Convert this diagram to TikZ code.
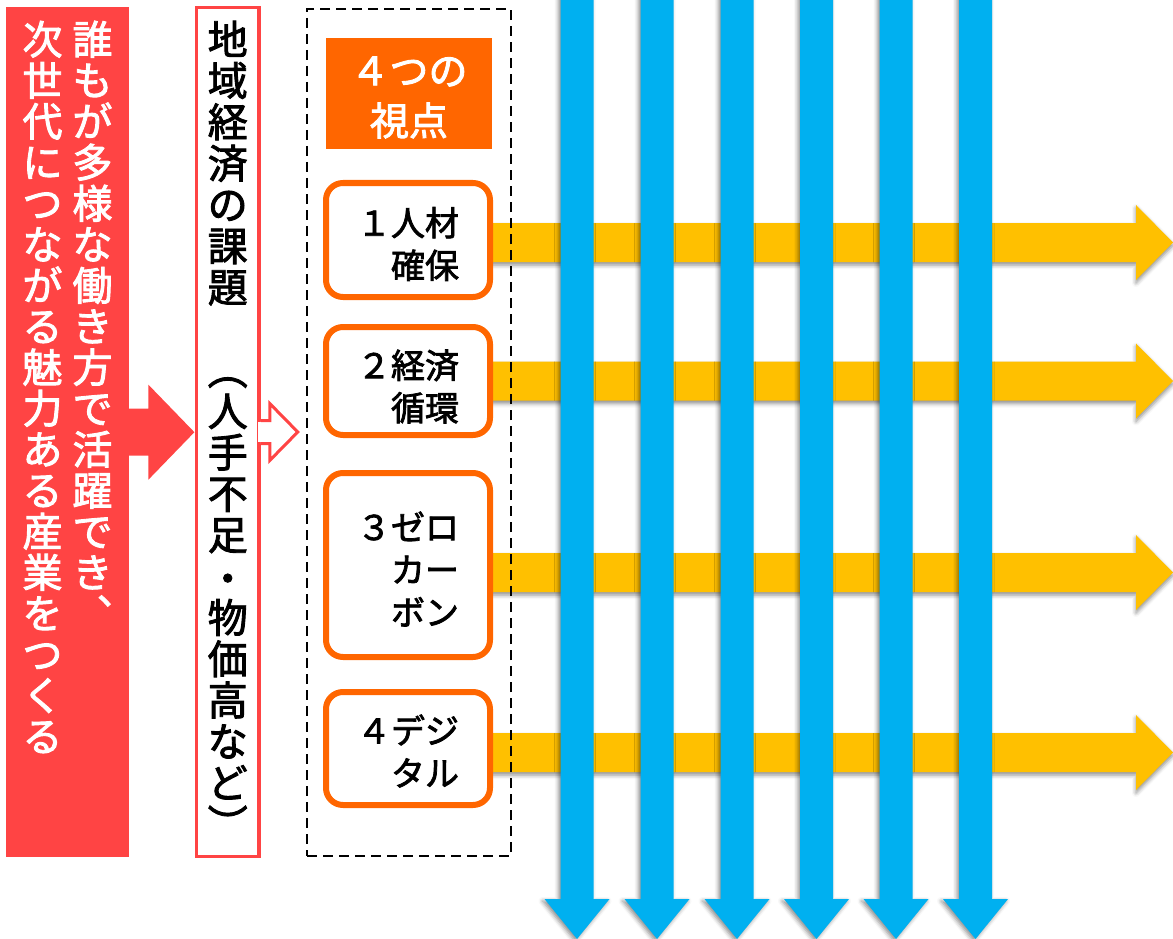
\documentclass[tikz,border=0pt]{standalone}
\usepackage{fontspec}
\setmainfont{Noto Sans CJK JP}[FakeBold=2.2]
\usetikzlibrary{shadows.blur}
\definecolor{cRed}{RGB}{255,68,68}
\definecolor{cBlue}{RGB}{0,176,240}
\definecolor{cYel}{RGB}{255,192,0}
\definecolor{cOra}{RGB}{255,102,0}
\begin{document}
\begin{tikzpicture}[x=1pt,y=-1pt,
  vtext/.style={anchor=north,inner sep=0pt,align=center,font=\fontsize{40pt}{41pt}\selectfont},
  vtextw/.style={anchor=north,inner sep=0pt,align=center,font=\fontsize{40pt}{41.3pt}\selectfont},
  pbox/.style={draw=cOra,line width=6pt,fill=white,rounded corners=17pt,minimum width=164pt,inner sep=0pt},
  lbl/.style={inner sep=0pt,align=right,font=\fontsize{34pt}{42.5pt}\selectfont},
  yarrow/.style={fill=cYel,blur shadow={shadow xshift=0pt,shadow yshift=-3pt,shadow blur radius=4pt,shadow opacity=45}},
  barrow/.style={fill=cBlue,blur shadow={shadow xshift=-2pt,shadow yshift=-2pt,shadow blur radius=4pt,shadow opacity=45}}
]
\useasboundingbox (0,0) rectangle (1173,939);

% yellow horizontal arrows
\coordinate (ya1) at (488,242.5);
\coordinate (ya2) at (488,381);
\coordinate (ya3) at (488,572.5);
\coordinate (ya4) at (488,752.5);
\foreach \k in {1,2,3,4}{
  \path[yarrow] (ya\k) ++(0,-19.5) -- ++(648,0) -- ++(0,-18) -- ++(37,37.5) -- ++(-37,37.5) -- ++(0,-18) -- ++(-648,0) -- cycle;
}

% red box and arrow
\node[fill=cRed,minimum width=123pt,minimum height=850pt,inner sep=0pt,anchor=north west] (rb) at (6,7) {};
\fill[cRed] (rb.east) ++(-1,-23.5) -- ++(20,0) -- ++(0,-24) -- ++(46,47.5) -- ++(-46,47.5) -- ++(0,-24) -- ++(-20,0) -- cycle;
\node[vtext,text=white] (r1) at (92.5,19) {\rule{0pt}{35.2pt}誰\\も\\が\\多\\様\\な\\働\\き\\方\\で\\活\\躍\\で\\き\\︑};
\node[vtext,text=white] (r2) at (42.5,19) {\rule{0pt}{35.2pt}次\\世\\代\\に\\つ\\な\\が\\る\\魅\\力\\あ\\る\\産\\業\\を\\つ\\く\\る};

% white box with hollow arrow
\node[draw=cRed,line width=3.5pt,fill=white,minimum width=62.5pt,minimum height=849pt,inner sep=0pt] (wb) at (227.75,432) {};
\fill[white] (wb.east) ++(-3,-10) rectangle ++(5.5,20);
\filldraw[fill=white,draw=cRed,line width=3pt] (wb.east) ++(0,-11.5) -- ++(9,0) -- ++(0,-17) -- ++(28,28.5) -- ++(-28,28.5) -- ++(0,-17) -- ++(-9,0);
\node[vtextw] (wt) at (227.75,19) {\rule{0pt}{35.2pt}地\\域\\経\\済\\の\\課\\題\\\phantom{地}\\︵\\人\\手\\不\\足\\\smash{\raisebox{-2pt}{・}}\\物\\価\\高\\な\\ど\\︶};

% dashed frame
\node[draw,dash pattern=on 10pt off 6pt,line width=2pt,minimum width=204pt,minimum height=847pt,inner sep=0pt] (frame) at (409,432.5) {};

% title
\node[fill=cOra,minimum width=166pt,minimum height=111pt,inner sep=0pt] (tb) at (409,93.5) {};
\node[inner sep=0pt,align=center,text=white,font=\fontsize{39pt}{50pt}\selectfont] (tt) at (409,97.5) {４つの\\視点};

% four viewpoint boxes
\node[pbox,minimum height=114pt] (b1) at (408,240) {};
\node[pbox,minimum height=108pt] (b2) at (408,381) {};
\node[pbox,minimum height=184pt] (b3) at (408,565) {};
\node[pbox,minimum height=113pt] (b4) at (408,748.5) {};
\node[lbl] (t1) at (408,244) {１人材\\確保};
\node[lbl] (t2) at (408,386.5) {２経済\\循環};
\node[lbl] (t3) at (408,569) {３ゼロ\\カー\\ボン};
\node[lbl] (t4) at (408,751) {４デジ\\タル};

% blue vertical arrows
\foreach \k/\c in {1/577,2/657,3/737,4/816.5,5/896,6/975.5}{
  \coordinate (bl\k) at (\c,0);
  \path[barrow] (bl\k) ++(-16.5,-10) -- ++(33,0) -- ++(0,909) -- ++(16,0) -- ++(-32.5,40) -- ++(-32.5,-40) -- ++(16,0) -- cycle;
}
\end{tikzpicture}
\end{document}
